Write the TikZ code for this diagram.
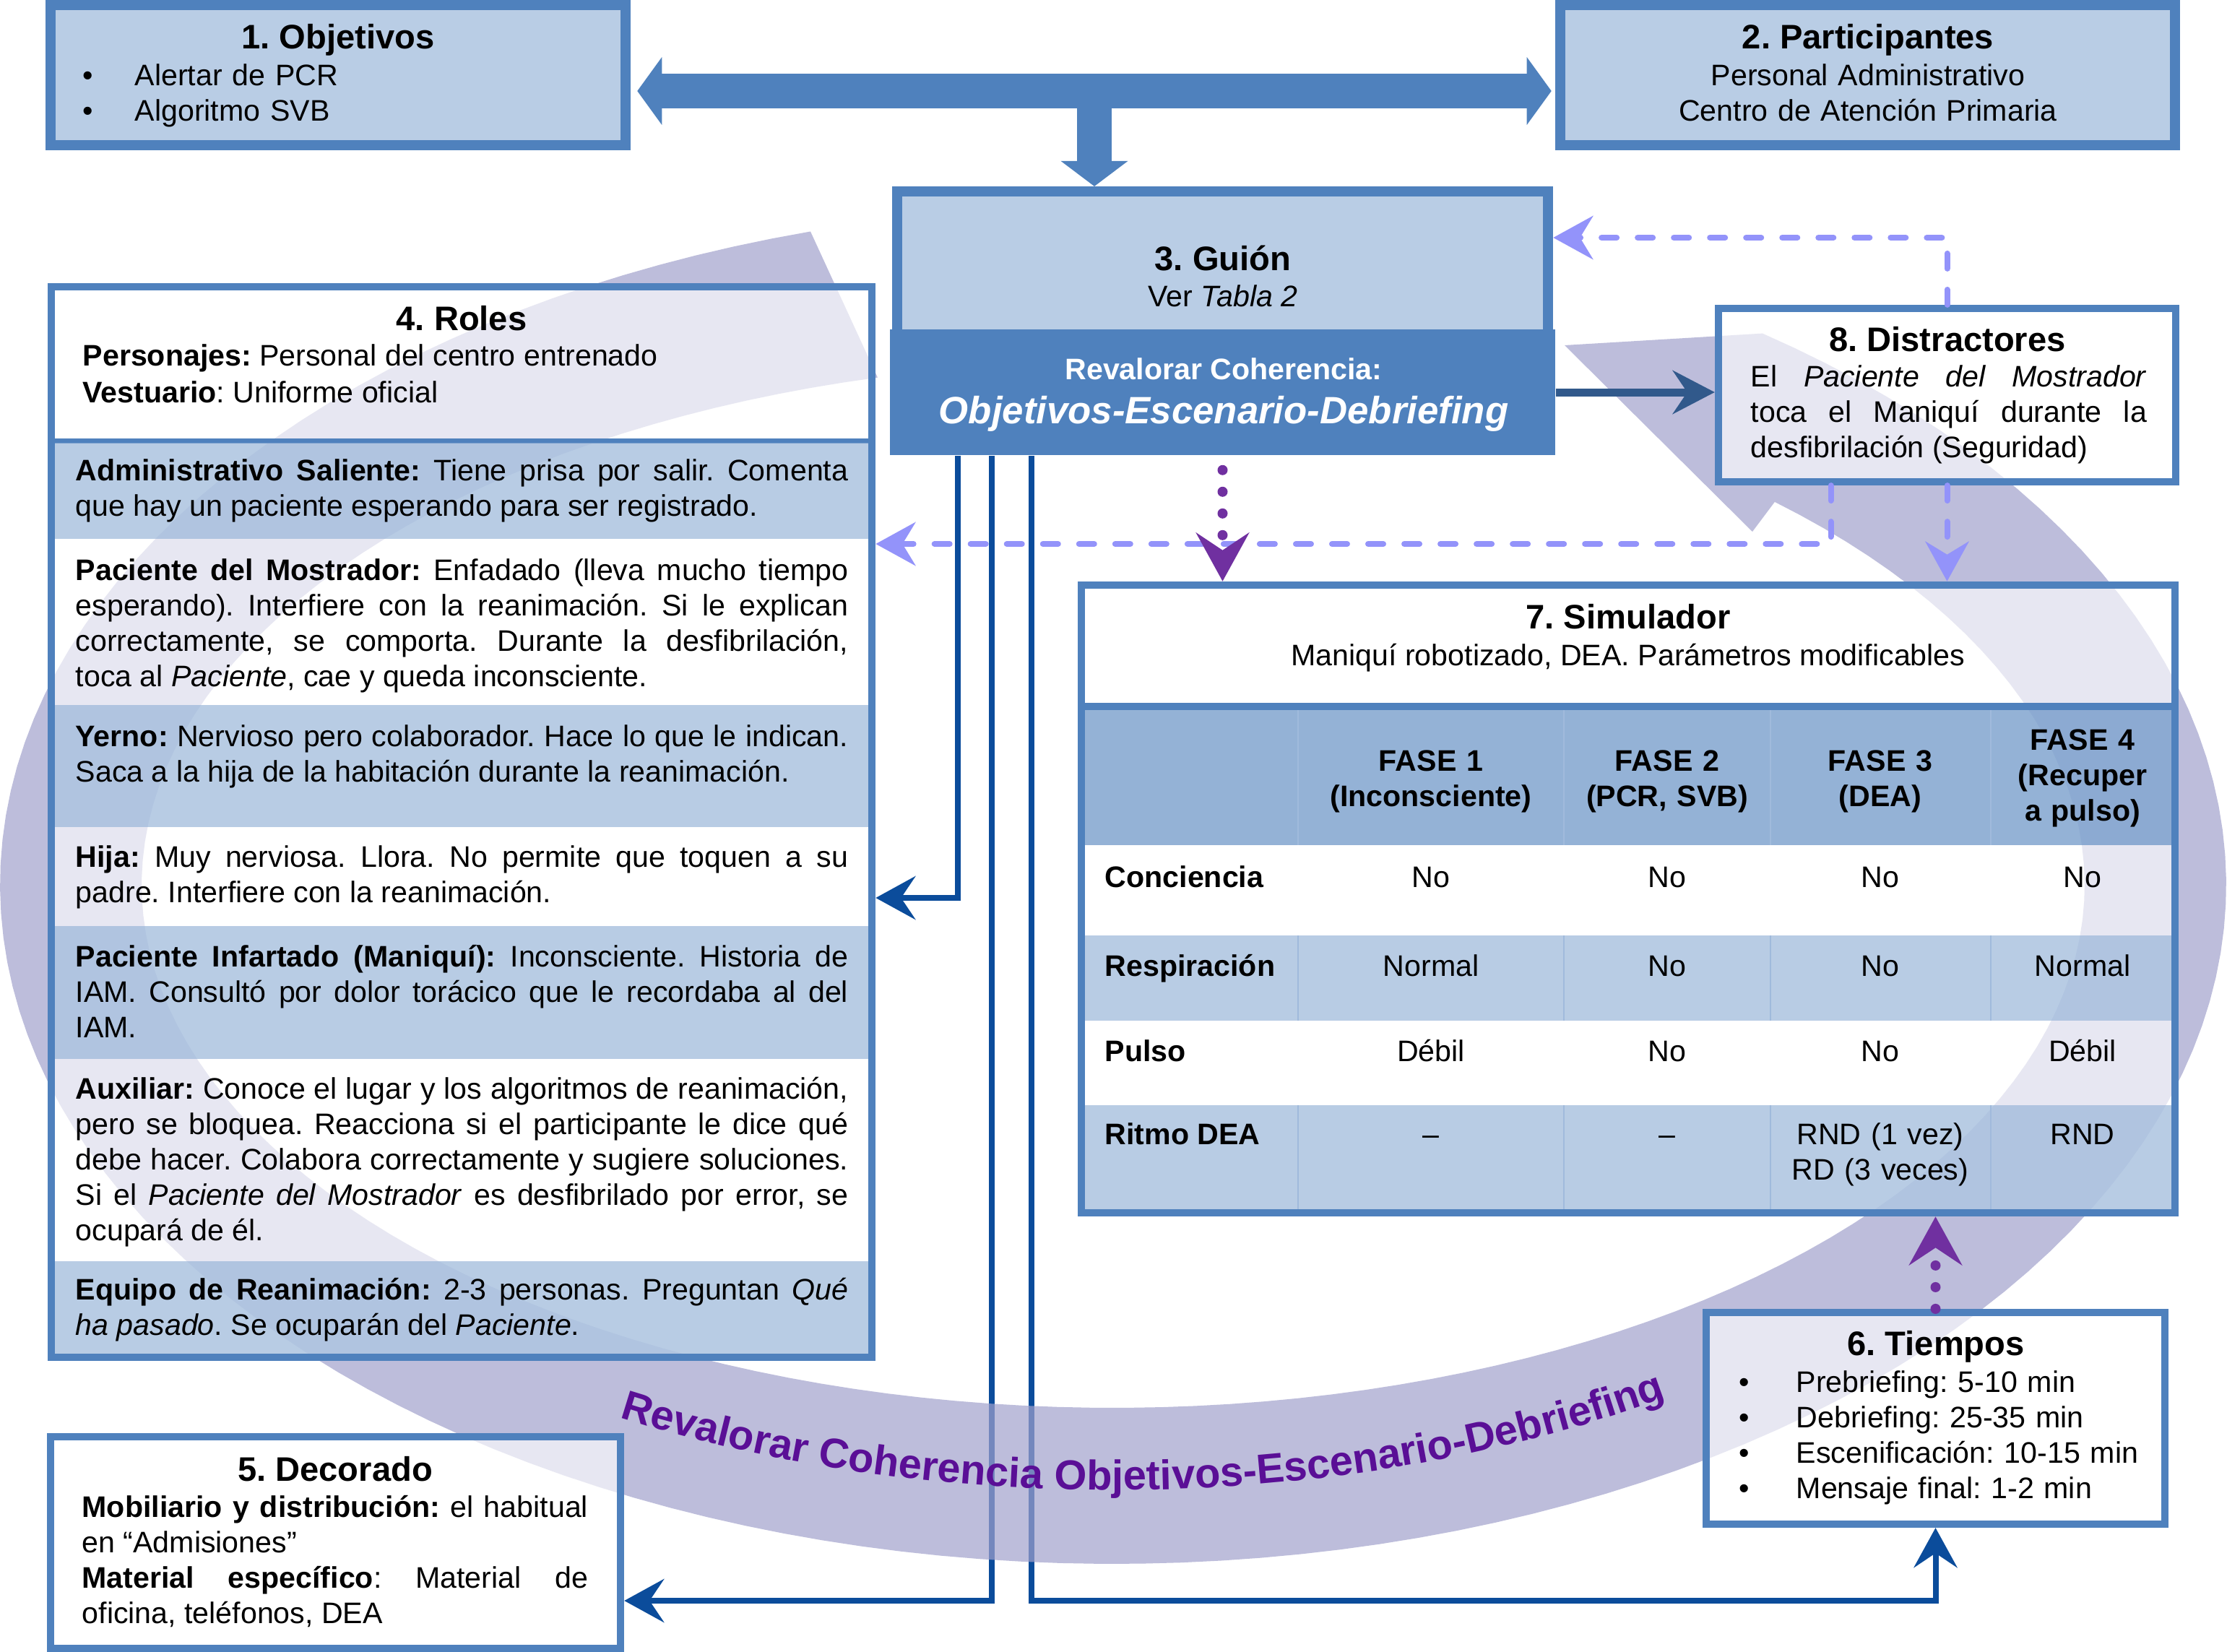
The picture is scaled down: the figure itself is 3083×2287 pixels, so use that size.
\documentclass[tikz,border=0pt]{standalone}
\usepackage{fontspec}
\setmainfont{Liberation Sans}
\usetikzlibrary{arrows.meta,decorations.text}
\definecolor{azulcaja}{RGB}{79,129,189}
\definecolor{celeste}{RGB}{185,205,229}
\definecolor{filaazul}{RGB}{147,178,215}
\definecolor{cabecera}{RGB}{92,138,193}
\definecolor{lineatabla}{RGB}{160,186,220}
\definecolor{lila}{RGB}{161,161,204}
\definecolor{azulosc}{RGB}{11,76,155}
\definecolor{lavanda}{RGB}{147,147,250}
\definecolor{morado}{RGB}{112,48,160}
\definecolor{moradotexto}{RGB}{90,15,150}
\definecolor{acero}{RGB}{49,89,139}
\pgfdeclarelayer{fondo}
\pgfdeclarelayer{capaanillo}
\pgfsetlayers{fondo,capaanillo,main}
\newcommand{\vineta}[1][0.72cm]{\makebox[#1][l]{•}}
\frenchspacing
\hyphenpenalty=10000
\exhyphenpenalty=10000

\begin{document}
\begin{tikzpicture}[x=0.01cm, y=-0.01cm,
  caja/.style={draw=azulcaja, line width=0.1cm, fill=white, fill opacity=0.65, text opacity=1, inner sep=0pt},
  cajagruesa/.style={caja, line width=0.14cm, fill=celeste, fill opacity=1},
  fila/.style={fill=filaazul, fill opacity=0.65},
  titulo/.style={inner sep=0pt, anchor=base, font=\fontsize{13.4}{16}\selectfont\bfseries},
  texto/.style={inner sep=0pt, font=\fontsize{11.7}{14}\selectfont},
  negrita/.style={texto, font=\fontsize{11.7}{14}\selectfont\bfseries},
  parrafo/.style={texto, anchor=base west, text width=#1, align=justify},
  conector/.style={draw=azulosc, line width=0.08cm, -{Stealth[length=0.55cm, width=0.6cm, inset=0.2cm]}},
  discontinua/.style={draw=lavanda, line width=0.08cm, line cap=round, dash pattern=on 0.21cm off 0.29cm, -{Stealth[length=0.55cm, width=0.6cm, inset=0.18cm]}},
  punteada/.style={draw=morado, line width=0.14cm, line cap=round, dash pattern=on 0pt off 0.3cm, -{Stealth[length=0.67cm, width=0.73cm, inset=0.24cm]}},
  gruesa/.style={draw=azulcaja, line width=0.48cm}]
\useasboundingbox (0,0) rectangle (3083,2287);

% cajas
\node[cajagruesa, minimum width=7.96cm, minimum height=1.94cm] (objetivos) at (468,104) {};
\node[cajagruesa, minimum width=8.51cm, minimum height=1.94cm] (participantes) at (2585.5,104) {};
\node[cajagruesa, minimum width=9.01cm, minimum height=1.98cm] (guion) at (1692.5,364) {};
\node[fill=azulcaja, inner sep=0pt, minimum width=9.21cm, minimum height=1.74cm] (revalorar) at (1692.5,543) {};
\node[caja, minimum width=11.36cm, minimum height=14.82cm] (roles) at (639,1138) {};
\node[caja, minimum width=7.89cm, minimum height=2.93cm] (decorado) at (464.5,2135.5) {};
\node[caja, minimum width=6.35cm, minimum height=2.93cm] (tiempos) at (2679.5,1963.5) {};
\node[caja, minimum width=15.14cm, minimum height=8.69cm] (simulador) at (2254,1244.5) {};
\node[caja, minimum width=6.33cm, minimum height=2.40cm] (distractores) at (2695.5,547) {};

% filas de roles y tabla
\draw[azulcaja, line width=0.07cm] (76,610) -- (1202,610);
\foreach \a/\b in {613/746, 976/1145, 1282/1466, 1746/1874}
  \fill[fila] (76,\a) rectangle (1202,\b);
\draw[azulcaja, line width=0.1cm] (1502,978) -- (3006,978);
\fill[cabecera, fill opacity=0.65] (1502,983) rectangle (3006,1170);
\foreach \a/\b in {1295/1413, 1530/1674}
  \fill[fila] (1502,\a) rectangle (3006,\b);
\foreach \x in {1797,2165,2451,2756}{
  \draw[lineatabla, line width=0.02cm] (\x,983) -- (\x,1170);
  \draw[lineatabla, line width=0.02cm] (\x,1295) -- (\x,1413);
  \draw[lineatabla, line width=0.02cm] (\x,1530) -- (\x,1674);
}

% textos
\node[titulo] (tobj) at (468,67) {1. Objetivos};
\node[texto, anchor=base west, text width=7cm, align=left] (lobj) at (114,118) {\vineta Alertar de PCR\\\vineta Algoritmo SVB};
\node[titulo] (tpar) at (2586,67) {2. Participantes};
\node[texto, anchor=base, text width=8cm, align=center] (lpar) at (2586,118) {Personal Administrativo\\Centro de Atención Primaria};
\node[titulo] (tgui) at (1693,374) {3. Guión};
\node[texto, anchor=base] (lgui) at (1693,424) {Ver \textit{Tabla 2}};
\node[negrita, anchor=base, text=white] (lrev) at (1694,525) {Revalorar Coherencia:};
\node[anchor=base, inner sep=0pt, text=white, font=\fontsize{15}{18}\selectfont\bfseries\itshape] (lobjesc) at (1694,586) {Objetivos-Escenario-Debriefing};

\node[titulo] (trol) at (639,457) {4. Roles};
\node[texto, anchor=base west] (lpers) at (114,506) {\textbf{Personajes:} Personal del centro entrenado};
\node[texto, anchor=base west] (lvest) at (114,557) {\textbf{Vestuario}: Uniforme oficial};
\node[parrafo=10.69cm] (radm) at (104,665) {\textbf{Administrativo Saliente:} Tiene prisa por salir. Comenta que hay un paciente esperando para ser registrado.};
\node[parrafo=10.69cm] (rmos) at (104,803) {\textbf{Paciente del Mostrador:} Enfadado (lleva mucho tiempo esperando). Interfiere con la reanimación. Si le explican\linebreak correctamente, se comporta. Durante la desfibrilación,\linebreak toca al \textit{Paciente}, cae y queda inconsciente.};
\node[parrafo=10.69cm] (ryer) at (104,1033) {\textbf{Yerno:} Nervioso pero colaborador. Hace lo que le indican.\linebreak Saca a la hija de la habitación durante la reanimación.};
\node[parrafo=10.69cm] (rhij) at (104,1200) {\textbf{Hija:} Muy nerviosa. Llora. No permite que toquen a su padre. Interfiere con la reanimación.};
\node[parrafo=10.69cm] (rinf) at (104,1338) {\textbf{Paciente Infartado (Maniquí):} Inconsciente. Historia de IAM. Consultó por dolor torácico que le recordaba al del IAM.};
\node[parrafo=10.69cm] (raux) at (104,1521) {\textbf{Auxiliar:} Conoce el lugar y los algoritmos de reanimación, pero se bloquea. Reacciona si el participante le dice qué debe hacer. Colabora correctamente y sugiere soluciones. Si el \textit{Paciente del Mostrador} es desfibrilado por error, se ocupará de él.};
\node[parrafo=10.69cm] (requ) at (104,1799) {\textbf{Equipo de Reanimación:} 2-3 personas. Preguntan \textit{Qué}\linebreak \textit{ha pasado}. Se ocuparán del \textit{Paciente}.};

\node[titulo] (tdec) at (464,2050) {5. Decorado};
\node[parrafo=7cm] (ldec) at (113,2100) {\textbf{Mobiliario y distribución:} el habitual\linebreak en “Admisiones”\\ \textbf{Material específico}: Material de\linebreak oficina, teléfonos, DEA};

\node[titulo] (ttie) at (2680,1876) {6. Tiempos};
\node[texto, anchor=base west, text width=5.8cm, align=left] (ltie) at (2407,1927) {\vineta[0.79cm]Prebriefing: 5-10 min\\\vineta[0.79cm]Debriefing: 25-35 min\\\vineta[0.79cm]Escenificación: 10-15 min\\\vineta[0.79cm]Mensaje final: 1-2 min};

\node[titulo] (tsim) at (2254,870) {7. Simulador};
\node[texto, anchor=base] (lsim) at (2254,921) {Maniquí robotizado, DEA. Parámetros modificables};
\node[negrita, anchor=base, text width=3.4cm, align=center] (fase1) at (1981,1067) {FASE 1\\(Inconsciente)};
\node[negrita, anchor=base, text width=2.8cm, align=center] (fase2) at (2308,1067) {FASE 2\\(PCR, SVB)};
\node[negrita, anchor=base, text width=2.8cm, align=center] (fase3) at (2603,1067) {FASE 3\\(DEA)};
\node[negrita, anchor=base, text width=2.4cm, align=center] (fase4) at (2883,1038) {FASE 4\\(Recuper\\a pulso)};
\foreach \fila/\y/\a/\b/\c/\d [count=\i] in {Conciencia/1228/No/No/No/No, Respiración/1351/Normal/No/No/Normal, Pulso/1469/Débil/No/No/Débil, Ritmo DEA/1584/–/–/{RND (1 vez)\\RD (3 veces)}/RND}{
  \node[negrita, anchor=base west] (p\i) at (1529,\y) {\fila};
  \node[texto, anchor=base] (p\i-a) at (1981,\y) {\a};
  \node[texto, anchor=base] (p\i-b) at (2308,\y) {\b};
  \node[texto, anchor=base, text width=2.9cm, align=center] (p\i-c) at (2603,\y) {\c};
  \node[texto, anchor=base] (p\i-d) at (2883,\y) {\d};
}

\node[titulo] (tdis) at (2696,486) {8. Distractores};
\node[parrafo=5.48cm] (ldis) at (2423,535) {El \textit{Paciente del Mostrador}\linebreak toca el Maniquí durante la\linebreak desfibrilación (Seguridad)};

% flechas
\coordinate (cruce) at (1515,126);
\draw[gruesa, {Triangle[length=0.34cm, width=0.92cm]}-{Triangle[length=0.34cm, width=0.92cm]}] ([shift={(9,22)}]objetivos.east) -- ([shift={(-5,22)}]participantes.west);
\draw[gruesa, line width=0.47cm, -{Triangle[length=0.35cm, width=0.91cm]}] (cruce) -- (cruce |- guion.north);
\draw[acero, line width=0.11cm, -{Stealth[length=0.58cm, width=0.6cm, inset=0.2cm]}] (revalorar.east) -- (revalorar.east -| distractores.west);
\draw[discontinua] (distractores.north) |- ([shift={(0,-35)}]guion.east);
\draw[discontinua] (distractores.south) -- (distractores.south |- simulador.north);
\draw[discontinua] ([shift={(-161,0)}]distractores.south) |- (roles.east |- 0,753);
\draw[punteada, shorten <=0.2cm] (revalorar.south) -- (revalorar.south |- simulador.north);
\draw[punteada] (tiempos.north) -- (tiempos.north |- simulador.south);

\begin{pgfonlayer}{fondo}
\fill[white] (0,0) rectangle (3083,2287);
\draw[conector] ([shift={(95,0)}]revalorar.south west) |- (roles.east |- 0,1243);
\draw[conector] ([shift={(142,0)}]revalorar.south west) |- (decorado.east |- 0,2216);
\draw[conector] ([shift={(197,0)}]revalorar.south west) |- (tiempos.south |- 0,2216) -- (tiempos.south);
\end{pgfonlayer}

\begin{pgfonlayer}{capaanillo}
\fill[lila, fill opacity=0.7] plot[domain=254.22:-54.31, samples=150] ({1541+1541*cos(\x)}, {1225+940*sin(\x)}) -- (2166,478) -- (2426,736) -- plot[domain=-47.08:255.97, samples=150] ({1541+1345*cos(\x)}, {1225+724*sin(\x)}) -- cycle;
\path[decorate, decoration={text along path, text align=center, text color=moradotexto, text={|\fontsize{16.4}{17}\selectfont\bfseries|Revalorar Coherencia Objetivos-Escenario-Debriefing}}] plot[domain=150:25, samples=100] ({1541+1440*cos(\x)}, {1225+838*sin(\x)});
\end{pgfonlayer}
\end{tikzpicture}
\end{document}
